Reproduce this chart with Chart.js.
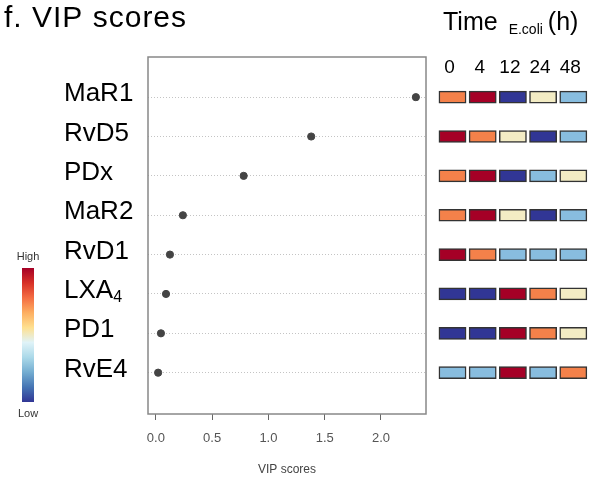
<!DOCTYPE html>
<html>
<head>
<meta charset="utf-8">
<script src="https://cdn.jsdelivr.net/npm/chart.js"></script>
<style>
  html, body { margin: 0; padding: 0; background: #fff; }
  #wrap { position: relative; width: 603px; height: 477px; }
  #wrap canvas { position: absolute; left: 0; top: 0; }
</style>
</head>
<body>
<div id="wrap">
  <canvas id="vipChart" width="603" height="477"></canvas>
  <canvas id="heatChart" width="603" height="477"></canvas>
</div>
<script>
// metabolites, top to bottom
const metabolites = ['MaR1', 'RvD5', 'PDx', 'MaR2', 'RvD1', 'LXA4', 'PD1', 'RvE4'];
const vipScores = [2.31, 1.38, 0.78, 0.24, 0.125, 0.09, 0.045, 0.02];
const vipTicks = [0, 0.5, 1.0, 1.5, 2.0];
const timePoints = ['0', '4', '12', '24', '48'];
// relative level per time point: 1 = low ... 5 = high
const levels = [
  [4, 5, 1, 3, 2],
  [5, 4, 3, 1, 2],
  [4, 5, 1, 2, 3],
  [4, 5, 3, 1, 2],
  [5, 4, 2, 2, 2],
  [1, 1, 5, 4, 3],
  [1, 1, 5, 4, 3],
  [2, 2, 5, 2, 4]
];
const levelColors = { 1: '#313695', 2: '#88bddf', 3: '#f3ecc4', 4: '#f4814a', 5: '#a50026' };

const FONT = 'Liberation Sans, Arial, sans-serif';
const rowMin = -1.02, rowMax = 8.05;

// box around the plot area
const frame = {
  id: 'frame',
  afterDraw(chart) {
    const { ctx, chartArea: a } = chart;
    ctx.save();
    ctx.strokeStyle = '#888';
    ctx.lineWidth = 1.5;
    ctx.strokeRect(a.left, a.top, a.right - a.left, a.bottom - a.top);
    ctx.restore();
  }
};

// big metabolite names, title and the colour key
const sideText = {
  id: 'sideText',
  afterDraw(chart) {
    const { ctx } = chart;
    const y = chart.scales.y;
    ctx.save();
    ctx.fillStyle = '#000';
    ctx.textBaseline = 'alphabetic';
    ctx.font = '30px ' + FONT;
    ctx.letterSpacing = '1px';
    ctx.fillText('f. VIP scores', 4, 27);
    ctx.letterSpacing = '0px';

    ctx.font = '26px ' + FONT;
    metabolites.forEach((m, i) => {
      const py = y.getPixelForValue(i) + 4;
      if (m === 'LXA4') {
        ctx.font = '26px ' + FONT;
        ctx.fillText('LXA', 64, py);
        const w = ctx.measureText('LXA').width;
        ctx.font = '16px ' + FONT;
        ctx.fillText('4', 64 + w, py + 4);
        ctx.font = '26px ' + FONT;
      } else {
        ctx.fillText(m, 64, py);
      }
    });

    // colour key
    const g = ctx.createLinearGradient(0, 268, 0, 402);
    const stops = ['#a50026', '#d73027', '#f46d43', '#fdae61', '#fee090', '#e0f3f8', '#abd9e9', '#74add1', '#4575b4', '#313695'];
    stops.forEach((c, k) => g.addColorStop(k / (stops.length - 1), c));
    ctx.fillStyle = g;
    ctx.fillRect(22, 268, 12, 134);
    ctx.fillStyle = '#333';
    ctx.font = '11px ' + FONT;
    ctx.textAlign = 'center';
    ctx.fillText('High', 28, 260);
    ctx.fillText('Low', 28, 417);
    ctx.restore();
  }
};

new Chart(document.getElementById('vipChart'), {
  type: 'scatter',
  data: {
    datasets: [{
      data: vipScores.map((v, i) => ({ x: v, y: i })),
      pointRadius: 3.6,
      pointHoverRadius: 3.6,
      pointBackgroundColor: '#444',
      pointBorderColor: '#444'
    }]
  },
  options: {
    responsive: false,
    animation: false,
    events: [],
    layout: { padding: { left: 148, top: 57, right: 177, bottom: 0 } },
    plugins: { legend: { display: false }, tooltip: { enabled: false } },
    scales: {
      x: {
        type: 'linear',
        min: -0.07,
        max: 2.4,
        afterBuildTicks: axis => { axis.ticks = vipTicks.map(v => ({ value: v })); },
        afterFit: axis => { axis.height = 63; },
        grid: { drawOnChartArea: false, tickLength: 6, color: '#666' },
        border: { display: false },
        ticks: {
          padding: 11,
          color: '#555',
          font: { family: FONT, size: 13 },
          callback: v => v.toFixed(1)
        },
        title: {
          display: true,
          text: 'VIP scores',
          color: '#444',
          font: { family: FONT, size: 12 },
          padding: { top: 0, bottom: 0 }
        }
      },
      y: {
        type: 'linear',
        reverse: true,
        min: rowMin,
        max: rowMax,
        afterBuildTicks: axis => { axis.ticks = metabolites.map((_, i) => ({ value: i })); },
        afterFit: axis => { axis.width = 0; },
        ticks: { display: false },
        grid: { color: '#c4c4c4', drawTicks: false, lineWidth: 1 },
        border: { display: false, dash: [1, 2] }
      }
    }
  },
  plugins: [frame, sideText]
});

// time header and column labels above the cells
const heatText = {
  id: 'heatText',
  afterDraw(chart) {
    const { ctx } = chart;
    const x = chart.scales.x;
    ctx.save();
    ctx.fillStyle = '#000';
    ctx.textBaseline = 'alphabetic';
    ctx.font = '25px ' + FONT;
    ctx.fillText('Time', 443, 30);
    let cx = 443 + ctx.measureText('Time').width + 11;
    ctx.font = '14px ' + FONT;
    ctx.fillText('E.coli', cx, 34);
    cx += ctx.measureText('E.coli').width + 5;
    ctx.font = '25px ' + FONT;
    ctx.fillText('(h)', cx, 30);

    ctx.font = '19px ' + FONT;
    ctx.textAlign = 'center';
    timePoints.forEach((t, j) => {
      ctx.fillText(t, x.getPixelForValue(j + 0.48) - 3, 73);
    });
    ctx.restore();
  }
};

new Chart(document.getElementById('heatChart'), {
  type: 'bar',
  data: {
    datasets: timePoints.map((t, j) => ({
      label: t,
      data: metabolites.map((_, i) => ({ x: [j + 0.03, j + 0.93], y: i })),
      backgroundColor: levels.map(row => levelColors[row[j]]),
      borderColor: '#333',
      borderWidth: 1.5,
      borderSkipped: false,
      barThickness: 12,
      grouped: false
    }))
  },
  options: {
    indexAxis: 'y',
    responsive: false,
    animation: false,
    events: [],
    layout: { padding: { left: 438, right: 14, top: 57, bottom: 63 } },
    plugins: { legend: { display: false }, tooltip: { enabled: false } },
    scales: {
      x: { type: 'linear', min: 0, max: 5, display: false },
      y: { type: 'linear', reverse: true, offset: false, min: rowMin, max: rowMax, display: false }
    }
  },
  plugins: [heatText]
});
</script>
</body>
</html>
